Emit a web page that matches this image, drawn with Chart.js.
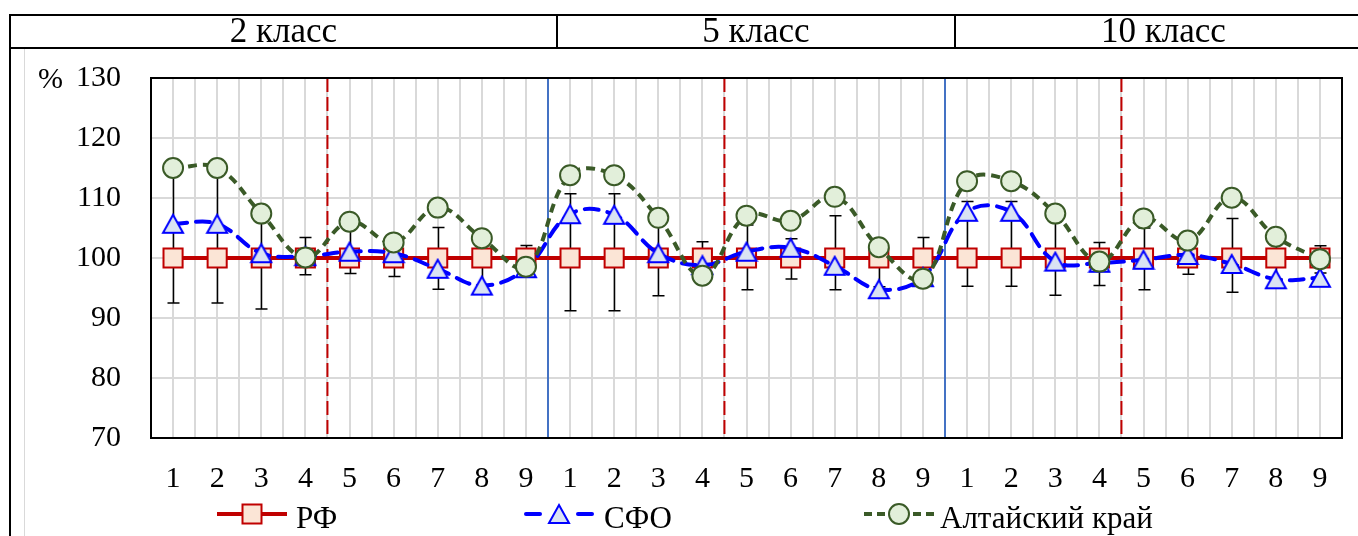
<!DOCTYPE html>
<html>
<head>
<meta charset="utf-8">
<script src="https://cdn.jsdelivr.net/npm/chart.js@4.4.1/dist/chart.umd.min.js"></script>
<style>
html,body{margin:0;padding:0;width:1358px;height:536px;overflow:hidden;background:#fff;font-family:"Liberation Serif","Times New Roman",serif;color:#000;}
#wrap{position:relative;width:1358px;height:536px;overflow:hidden;}
#cv{position:absolute;left:0;top:0;}
.ln{position:absolute;background:#000;}
.hd{position:absolute;top:15px;height:32px;line-height:32px;text-align:center;font-size:35px;white-space:nowrap;}
.lg{position:absolute;top:500px;height:28px;line-height:28px;font-size:31px;white-space:nowrap;}
.lg svg{position:absolute;top:2px;}
.lg span{position:absolute;top:4px;}
#pct{position:absolute;left:38px;top:62px;font-size:30px;line-height:32px;}
</style>
</head>
<body>
<div id="wrap">
  <canvas id="cv" width="1358" height="536"></canvas>
  <!-- header table -->
  <div class="ln" style="left:9px;top:14px;width:1349px;height:2px;"></div>
  <div class="ln" style="left:9px;top:47px;width:1349px;height:2px;"></div>
  <div class="ln" style="left:9px;top:14px;width:2px;height:522px;"></div>
  <div class="ln" style="left:556px;top:14px;width:2px;height:35px;"></div>
  <div class="ln" style="left:954px;top:14px;width:2px;height:35px;"></div>
  <div class="ln" style="left:24px;top:49px;width:1px;height:487px;background:#d9d9d9;"></div>
  <div id="hdr"></div>
  <div id="pct">%</div>
  <div id="legend"></div>
</div>
<script>
// ---------- data ----------
const groups = ["2 класс", "5 класс", "10 класс"];
const tickLabels = ["1","2","3","4","5","6","7","8","9","1","2","3","4","5","6","7","8","9","1","2","3","4","5","6","7","8","9"];
const seriesNames = ["РФ", "СФО", "Алтайский край"];
const rf = [100,100,100,100,100,100,100,100,100, 100,100,100,100,100,100,100,100,100, 100,100,100,100,100,100,100,100,100];
const sfo = [105.7,105.7,100.8,100.3,101.05,100.8,98.2,95.4,98.3, 107.3,107.2,100.8,98.8,101.05,101.7,98.7,94.8,96.8, 107.7,107.7,99.4,99.2,99.7,100.5,99.0,96.45,96.7];
const altai = [115,115,107.4,100.1,106.05,102.6,108.4,103.3,98.55, 113.8,113.8,106.7,97.05,107.05,106.2,110.2,101.8,96.55, 112.8,112.8,107.4,99.4,106.6,102.9,110.05,103.55,99.8];
const errHigh = [114,114,107,103.4,105,102,105.1,102,102.1, 110.7,110.7,106,102.7,105.5,103.2,107.05,101.8,103.4, 109.4,109.4,106,102.6,105,102.5,106.6,103,102.05];
const errLow = [92.5,92.5,91.5,97.2,97.4,96.9,94.8,95.5,98, 91.2,91.2,93.7,97.5,94.7,96.5,94.7,95.2,97.2, 95.3,95.3,93.8,95.4,94.7,97.3,94.3,96.5,97.5];
const yTicks = [70, 80, 90, 100, 110, 120, 130];
const groupSize = 9;   // items per class
const splitAfter = 4;  // red dashed line after item 4 within each class

// ---------- header / legend (HTML text) ----------
const hdrCols = [[11,556],[558,954],[956,1371]];
const hdr = document.getElementById('hdr');
groups.forEach((g,i)=>{
  const d = document.createElement('div');
  d.className='hd'; d.style.left=hdrCols[i][0]+'px'; d.style.width=(hdrCols[i][1]-hdrCols[i][0])+'px';
  d.textContent=g; hdr.appendChild(d);
});
const legendSvgs = [
 '<svg width="70" height="24"><line x1="0" y1="12" x2="70" y2="12" stroke="#c00000" stroke-width="4"/><rect x="25.5" y="2.5" width="19" height="19" fill="#fbe5d6" stroke="#c00000" stroke-width="2"/></svg>',
 '<svg width="70" height="24"><line x1="2" y1="12" x2="16" y2="12" stroke="#0000ff" stroke-width="4" stroke-linecap="round"/><line x1="54" y1="12" x2="68" y2="12" stroke="#0000ff" stroke-width="4" stroke-linecap="round"/><polygon points="35,3 45,21 25,21" fill="#dae3f3" stroke="#0000ff" stroke-width="2"/></svg>',
 '<svg width="70" height="24"><g stroke="#3a5a27" stroke-width="4"><line x1="0" y1="12" x2="8" y2="12"/><line x1="13" y1="12" x2="21" y2="12"/><line x1="49" y1="12" x2="57" y2="12"/><line x1="62" y1="12" x2="70" y2="12"/></g><circle cx="35" cy="12" r="10" fill="#e2efda" stroke="#3a5a27" stroke-width="2"/></svg>'
];
const legendPos = [[217,296],[524,604],[864,940]];
const lg = document.getElementById('legend');
seriesNames.forEach((n,i)=>{
  const it = document.createElement('div'); it.className='lg'; it.style.left='0px';
  it.innerHTML = legendSvgs[i].replace('<svg','<svg style="left:'+legendPos[i][0]+'px"') + '<span style="left:'+legendPos[i][1]+'px">'+n+'</span>';
  lg.appendChild(it);
});

// ---------- custom triangle marker (centred in its box) ----------
function triangleMarker(){
  const c=document.createElement('canvas'); c.width=24; c.height=22;
  const x=c.getContext('2d');
  x.beginPath(); x.moveTo(12,2); x.lineTo(22,20); x.lineTo(2,20); x.closePath();
  x.fillStyle='#dae3f3'; x.fill(); x.lineWidth=2; x.strokeStyle='#0000ff'; x.stroke();
  return c;
}
const tri = triangleMarker();

const toXY = arr => arr.map((v,i)=>({x:i+1,y:v}));
const N = tickLabels.length;

// ---------- plugin: separators, error bars, frame ----------
const decor = {
  id:'decor',
  beforeDatasetsDraw(chart){
    const {ctx, chartArea:a, scales:{x,y}} = chart;
    ctx.save();
    // separators
    for(let g=0; g<groups.length; g++){
      const start = g*groupSize;
      const red = x.getPixelForValue(start + splitAfter + 0.5);
      ctx.beginPath(); ctx.setLineDash([14,5]); ctx.lineWidth=2; ctx.strokeStyle='#c00000';
      ctx.moveTo(red,a.top); ctx.lineTo(red,a.bottom); ctx.stroke();
      if(g>0){
        const blue = x.getPixelForValue(start + 0.5);
        ctx.beginPath(); ctx.setLineDash([]); ctx.lineWidth=2; ctx.strokeStyle='#4472c4';
        ctx.moveTo(blue,a.top); ctx.lineTo(blue,a.bottom); ctx.stroke();
      }
    }
    ctx.setLineDash([]);
    // error bars on РФ
    ctx.strokeStyle='#000'; ctx.lineWidth=1.5;
    for(let i=0;i<N;i++){
      const px = Math.round(x.getPixelForValue(i+1))+0.5;
      const yh = y.getPixelForValue(errHigh[i]), yl = y.getPixelForValue(errLow[i]);
      ctx.beginPath();
      ctx.moveTo(px,yh); ctx.lineTo(px,yl);
      ctx.moveTo(px-6,yh); ctx.lineTo(px+6,yh);
      ctx.moveTo(px-6,yl); ctx.lineTo(px+6,yl);
      ctx.stroke();
    }
    // frame
    ctx.lineWidth=2; ctx.strokeStyle='#000';
    ctx.strokeRect(a.left, a.top, a.right-a.left, a.bottom-a.top);
    ctx.restore();
  }
};

new Chart(document.getElementById('cv'), {
  type:'line',
  data:{
    datasets:[
      {label:seriesNames[0], data:toXY(rf), order:3, borderColor:'#c00000', borderWidth:4,
       pointStyle:'rect', pointRadius:13.5, pointBackgroundColor:'#fbe5d6', pointBorderColor:'#c00000', pointBorderWidth:2, tension:0},
      {label:seriesNames[1], data:toXY(sfo), order:2, borderColor:'#0000ff', borderWidth:4, borderDash:[14,9], borderCapStyle:'round',
       pointStyle:tri, pointRadius:11, tension:0.4},
      {label:seriesNames[2], data:toXY(altai), order:1, borderColor:'#3a5a27', borderWidth:4, borderDash:[9,6],
       pointStyle:'circle', pointRadius:10, pointBackgroundColor:'#e2efda', pointBorderColor:'#3a5a27', pointBorderWidth:2, tension:0.4}
    ]
  },
  options:{
    responsive:false, animation:false, devicePixelRatio:1,
    layout:{padding:{left:0, top:78, right:16, bottom:0}},
    plugins:{legend:{display:false}, tooltip:{enabled:false}},
    scales:{
      x:{type:'linear', min:0.5, max:N+0.5,
         grid:{color:'#d9d9d9', lineWidth:2, drawTicks:false},
         border:{display:false},
         ticks:{stepSize:0.5, autoSkip:false, maxRotation:0, maxTicksLimit:200, padding:23, color:'#000',
                font:{family:'Liberation Serif', size:30},
                callback:(v)=> Number.isInteger(v) && v>=1 && v<=N ? tickLabels[v-1] : ''},
         afterFit:(s)=>{ s.height = 98; s.paddingLeft = 0; s.paddingRight = 0; }
      },
      y:{min:yTicks[0], max:yTicks[yTicks.length-1],
         grid:{color:'#d9d9d9', lineWidth:2, drawTicks:false},
         border:{display:false},
         afterBuildTicks:(s)=>{ s.ticks = yTicks.map(v=>({value:v})); },
         ticks:{padding:30, color:'#000', font:{family:'Liberation Serif', size:30}},
         afterFit:(s)=>{ s.width = 151; }
      }
    }
  },
  plugins:[decor]
});
</script>
</body>
</html>
